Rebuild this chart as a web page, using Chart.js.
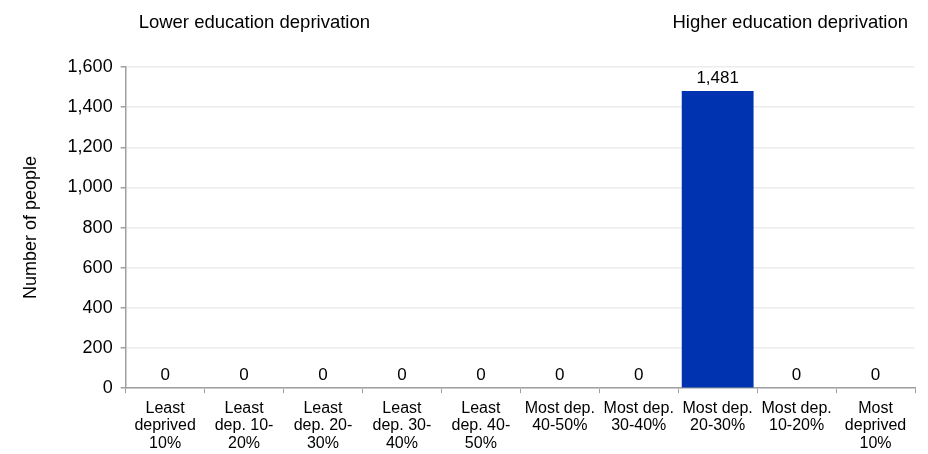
<!DOCTYPE html>
<html>
<head>
<meta charset="utf-8">
<script src="https://cdn.jsdelivr.net/npm/chart.js@4"></script>
<style>
  html, body { margin: 0; padding: 0; background: #fff; }
  #wrap { width: 928px; height: 454px; }
</style>
</head>
<body>
<div id="wrap"><canvas id="depChart"></canvas></div>
<script>
"use strict";

// categories (multi-line labels)
var categories = [
  ['Least', 'deprived', '10%'],
  ['Least', 'dep. 10-', '20%'],
  ['Least', 'dep. 20-', '30%'],
  ['Least', 'dep. 30-', '40%'],
  ['Least', 'dep. 40-', '50%'],
  ['Most dep.', '40-50%'],
  ['Most dep.', '30-40%'],
  ['Most dep.', '20-30%'],
  ['Most dep.', '10-20%'],
  ['Most', 'deprived', '10%']
];
var people = [0, 0, 0, 0, 0, 0, 0, 1481, 0, 0];
var yTicks = [0, 200, 400, 600, 800, 1000, 1200, 1400, 1600];
var leftNote = 'Lower education deprivation';
var rightNote = 'Higher education deprivation';

var FONT = '"Liberation Sans", Arial, sans-serif';

// value labels above bars
var valueLabels = {
  id: 'valueLabels',
  afterDatasetsDraw: function (chart) {
    var ctx = chart.ctx;
    var meta = chart.getDatasetMeta(0);
    ctx.save();
    ctx.font = '17px ' + FONT;
    ctx.fillStyle = '#000';
    ctx.textAlign = 'center';
    ctx.textBaseline = 'alphabetic';
    meta.data.forEach(function (bar, i) {
      ctx.fillText(people[i].toLocaleString('en-US'), bar.x, bar.y - 8);
    });
    ctx.restore();
  }
};

// the two notes above the plot
var notes = {
  id: 'notes',
  afterDraw: function (chart) {
    var ctx = chart.ctx;
    var area = chart.chartArea;
    ctx.save();
    ctx.font = '18.5px ' + FONT;
    ctx.fillStyle = '#000';
    ctx.textBaseline = 'middle';
    ctx.textAlign = 'left';
    ctx.fillText(leftNote, area.left + 13, 23);
    ctx.textAlign = 'right';
    ctx.fillText(rightNote, area.right - 7, 23);
    ctx.restore();
  }
};

var ctx = document.getElementById('depChart');
var myChart = new Chart(ctx, {
  type: 'bar',
  data: {
    labels: categories,
    datasets: [{
      label: 'Number of people',
      data: people,
      backgroundColor: '#0033b0',
      categoryPercentage: 1,
      barPercentage: 0.91
    }]
  },
  options: {
    responsive: true,
    maintainAspectRatio: false,
    animation: false,
    layout: { padding: { top: 67, right: 13, left: 20, bottom: -5 } },
    plugins: {
      legend: { display: false },
      tooltip: { enabled: false }
    },
    scales: {
      x: {
        grid: {
          display: true,
          drawOnChartArea: false,
          drawTicks: true,
          tickLength: 5,
          tickColor: '#a0a0a0'
        },
        border: { display: true, color: '#a0a0a0', width: 1.5 },
        ticks: {
          color: '#000',
          font: { family: FONT, size: 16, lineHeight: 1.08 },
          maxRotation: 0,
          autoSkip: false,
          padding: 7
        }
      },
      y: {
        min: 0,
        max: 1600,
        afterBuildTicks: function (axis) {
          axis.ticks = yTicks.map(function (v) { return { value: v }; });
        },
        grid: {
          color: '#ececec',
          tickColor: '#a0a0a0',
          tickLength: 5,
          lineWidth: 1.5
        },
        border: { display: true, color: '#a0a0a0', width: 1.5 },
        ticks: {
          color: '#000',
          font: { family: FONT, size: 18 },
          padding: 8,
          callback: function (v) { return v.toLocaleString('en-US'); }
        },
        title: {
          display: true,
          text: 'Number of people',
          color: '#000',
          font: { family: FONT, size: 18 },
          padding: { top: 0, bottom: 18 }
        }
      }
    }
  },
  plugins: [valueLabels, notes]
});
</script>
</body>
</html>
